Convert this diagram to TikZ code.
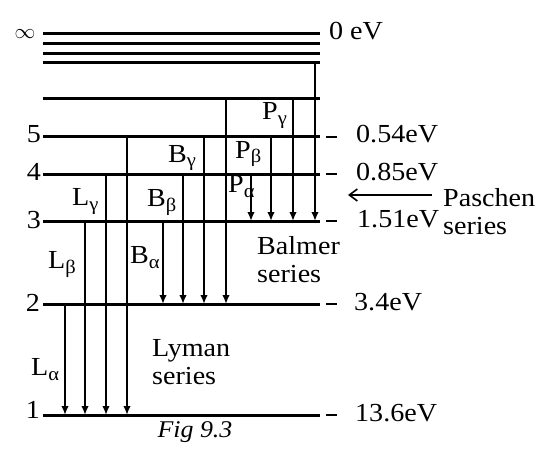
\documentclass[tikz,border=0pt]{standalone}
\usepackage{fontspec}
\setmainfont[FakeStretch=1.08]{Liberation Serif}
\usetikzlibrary{arrows.meta,calc}
\newcommand\lvsub[1]{\raisebox{-5pt}{\fontsize{19}{19}\selectfont #1}}
\begin{document}
\begin{tikzpicture}[x=1pt,y=-1pt,
  levelline/.style={line width=3pt},
  trans/.style={line width=2.2pt,-{Latex[length=9pt,width=7.5pt]}},
  tick/.style={line width=1.5pt},
  lbl/.style={font=\fontsize{26}{28}\selectfont, inner sep=0pt},
  num/.style={lbl, anchor=base east},
  ev/.style={lbl, anchor=base west},
  sym/.style={lbl, anchor=base west},
  series/.style={lbl, anchor=base west, align=left}]
\useasboundingbox (0,0) rectangle (548,457);
% energy levels
\foreach \n/\y in {i1/34,i2/44,i3/54,i4/63,n6/99,n5/137,n4/174,n3/221,n2/304,n1/415}{
  \coordinate (\n) at (43,\y);
  \coordinate (\n e) at (320,\y);
  \draw[levelline] (\n) -- (\n e);
}
% columns
\foreach \c/\x in {La/65,Lb/85,Lg/106,Ld/127,Ba/163,Bb/183,Bg/204,Bd/226,Pa/251,Pb/271,Pg/293,Pd/315}{
  \coordinate (c\c) at (\x,0);
}
% Lyman
\draw[trans] (cLa |- n2) -- (cLa |- n1);
\draw[trans] (cLb |- n3) -- (cLb |- n1);
\draw[trans] (cLg |- n4) -- (cLg |- n1);
\draw[trans] (cLd |- n5) -- (cLd |- n1);
% Balmer
\draw[trans] (cBa |- n3) -- (cBa |- n2);
\draw[trans] (cBb |- n4) -- (cBb |- n2);
\draw[trans] (cBg |- n5) -- (cBg |- n2);
\draw[trans] (cBd |- n6) -- (cBd |- n2);
% Paschen
\draw[trans] (cPa |- n4) -- (cPa |- n3);
\draw[trans] (cPb |- n5) -- (cPb |- n3);
\draw[trans] (cPg |- n6) -- (cPg |- n3);
\draw[trans] (cPd |- i4) -- (cPd |- n3);
% ticks
\foreach \n in {n5,n4,n3,n2,n1}{
  \draw[tick] ($(\n e)+(6,0)$) -- ++(11,0);
}
% level numbers
\node[lbl] (inf) at (25,34) {\fontsize{20}{20}\selectfont$\infty$};
\node[num] (l5) at (41,143) {5};
\node[num] (l4) at (41,180) {4};
\node[num] (l3) at (41,228) {3};
\node[num] (l2) at (40,311) {2};
\node[num] (l1) at (40,418) {1};
% energies
\node[ev] (e0) at (329,40) {0 eV};
\node[ev] (e5) at (356,143) {0.54eV};
\node[ev] (e4) at (356,180) {0.85eV};
\node[ev] (e3) at (357,227) {1.51eV};
\node[ev] (e2) at (354,310) {3.4eV};
\node[ev] (e1) at (355,421) {13.6eV};
% transition labels
\node[sym] (sPg) at (262,120) {P\lvsub{γ}};
\node[sym] (sPb) at (235,158) {P\lvsub{β}};
\node[sym] (sPa) at (228,193) {P\lvsub{α}};
\node[sym] (sBg) at (168,162) {B\lvsub{γ}};
\node[sym] (sBb) at (147,206) {B\lvsub{β}};
\node[sym] (sBa) at (130,263) {B\lvsub{α}};
\node[sym] (sLg) at (72,205) {L\lvsub{γ}};
\node[sym] (sLb) at (48,268) {L\lvsub{β}};
\node[sym] (sLa) at (31,375) {L\lvsub{α}};
% series names (anchored at the baseline of the last line)
\node[series] (balmer) at (257,282) {Balmer\\series};
\node[series] (lyman) at (152,384) {Lyman\\series};
\node[series] (paschen) at (443,234) {Paschen\\series};
\coordinate (pa1) at (432,195);
\coordinate (pa2) at (348,195);
\draw[line width=1.6pt,-{Straight Barb[length=8pt,width=12pt]}] (pa1) -- (pa2);
% caption
\node[lbl, anchor=base, font=\fontsize{24}{26}\selectfont\itshape] (fig) at (195,437) {Fig 9.3};
\end{tikzpicture}
\end{document}
